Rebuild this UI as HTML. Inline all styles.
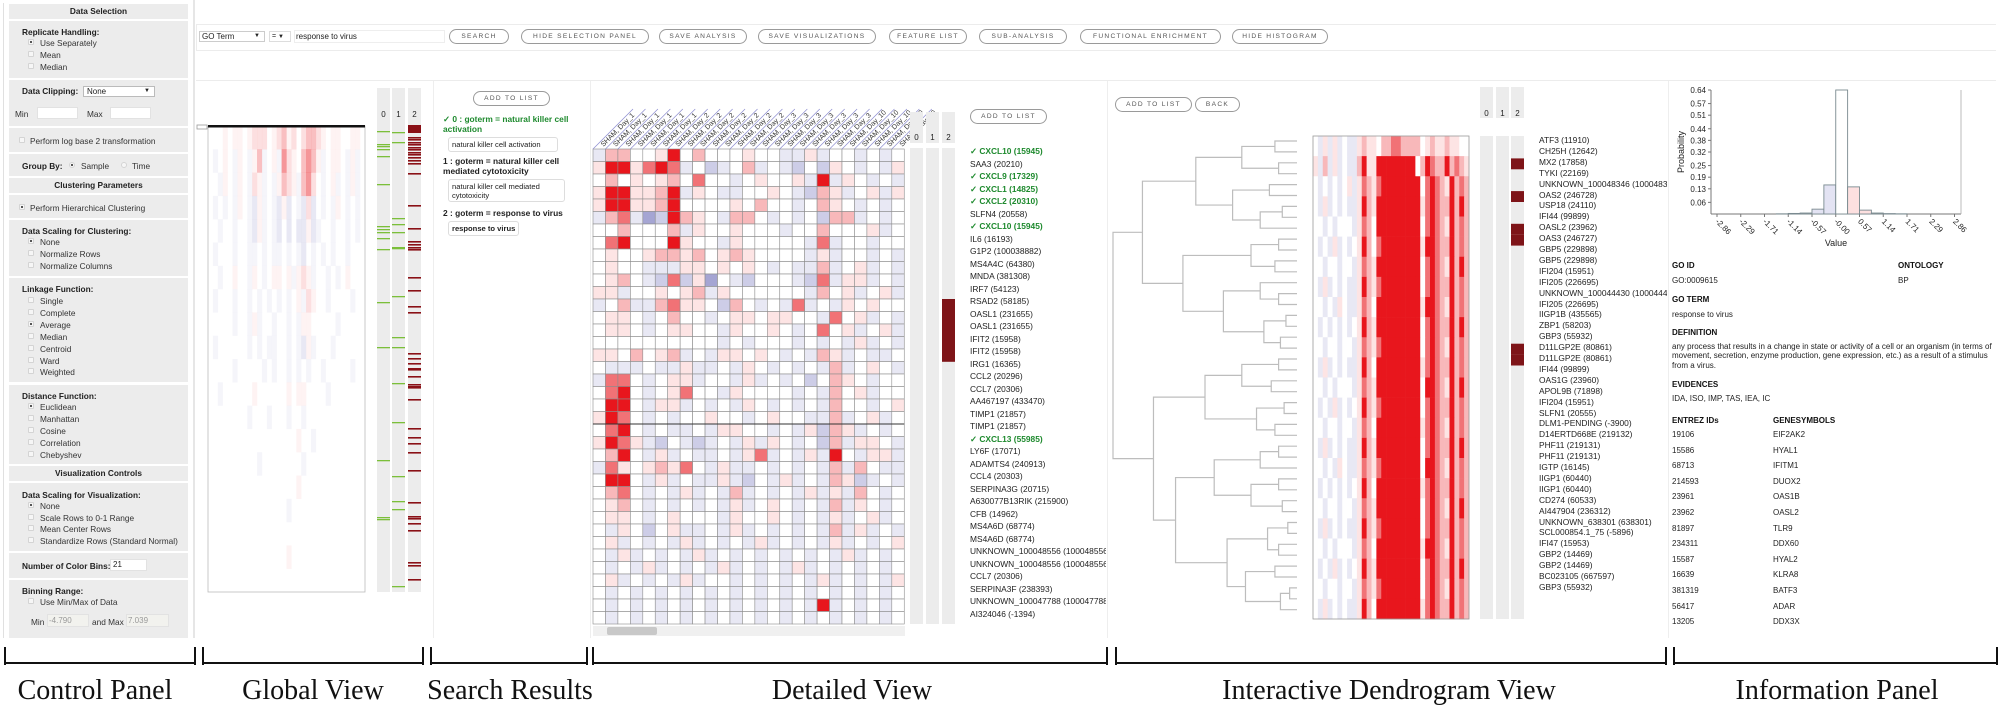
<!DOCTYPE html>
<html><head><meta charset="utf-8">
<style>
*{box-sizing:border-box;margin:0;padding:0}
body{width:2002px;height:709px;overflow:hidden;background:#fff;position:relative;font-family:"Liberation Sans",sans-serif;color:#222}
.a{position:absolute;white-space:nowrap}
.cp{position:absolute;left:9px;width:179px;background:#ececec}
.hd{font-weight:bold;font-size:8.3px;text-align:center}
.lb{font-weight:bold;font-size:8.3px;position:absolute;left:13px}
.op{position:absolute;left:31px;font-size:8.3px;color:#333}
.rb{position:absolute;left:19px;width:6px;height:6px;border:1px solid #d4d4d4;background:#f6f6f6;border-radius:1px}
.rb.on::after{content:"";position:absolute;left:1px;top:1px;width:2px;height:2px;background:#555}
.btn{position:absolute;height:15px;border:1px solid #9a9a9a;border-radius:8px;font-size:6.6px;letter-spacing:1.3px;color:#555;text-align:center;line-height:13px;background:#fff}
.inp{position:absolute;background:#fff;border:1px solid #e2e2e2}
.g{position:absolute;font-size:8.4px}
.box{position:absolute;border:1px solid #ddd;border-radius:3px;font-size:7.6px;padding:2px 3px;line-height:9px;background:#fff}
.bl{position:absolute;background:#111}
.cap{position:absolute;top:675px;font-family:"Liberation Serif",serif;font-size:28px;color:#111;transform:translateX(-50%);white-space:nowrap}
.it{position:absolute;font-size:8px;color:#222}
.ib{position:absolute;font-size:8px;font-weight:bold;color:#111}
</style></head><body>

<!-- CONTROL PANEL -->
<div>
<div class="a" style="left:3px;top:3px;width:1px;height:635px;background:#e0e0e0"></div>
<div class="cp" style="top:4px;height:15px"><div class="hd" style="line-height:15px">Data Selection</div></div>
<div class="cp" style="top:21px;height:57px">
 <div class="lb" style="top:6px">Replicate Handling:</div>
 <div class="rb on" style="top:18px"></div><div class="op" style="top:17px">Use Separately</div>
 <div class="rb" style="top:30px"></div><div class="op" style="top:29px">Mean</div>
 <div class="rb" style="top:42px"></div><div class="op" style="top:41px">Median</div>
</div>
<div class="cp" style="top:80px;height:46px">
 <div class="lb" style="top:6px">Data Clipping:</div>
 <div class="inp" style="left:74px;top:6px;width:72px;height:11px;border-color:#bbb;font-size:8px;padding-left:3px;line-height:9px">None<span style="position:absolute;right:4px;font-size:6px">▼</span></div>
 <div class="op" style="left:6px;top:29px">Min</div><div class="inp" style="left:28px;top:27px;width:41px;height:12px"></div>
 <div class="op" style="left:78px;top:29px">Max</div><div class="inp" style="left:101px;top:27px;width:41px;height:12px"></div>
</div>
<div class="cp" style="top:128px;height:24px"><div class="rb" style="top:9px;left:10px"></div><div class="op" style="left:21px;top:8px">Perform log base 2 transformation</div></div>
<div class="cp" style="top:154px;height:22px">
 <div class="lb" style="top:7px">Group By:</div>
 <div class="rb on" style="left:60px;top:8px;border-radius:50%"></div><div class="op" style="left:72px;top:7px">Sample</div>
 <div class="rb" style="left:112px;top:8px;border-radius:50%"></div><div class="op" style="left:123px;top:7px">Time</div>
</div>
<div class="cp" style="top:178px;height:15px"><div class="hd" style="line-height:15px">Clustering Parameters</div></div>
<div class="cp" style="top:195px;height:23px"><div class="rb on" style="top:9px;left:10px"></div><div class="op" style="left:21px;top:8px">Perform Hierarchical Clustering</div></div>
<div class="cp" style="top:220px;height:56px">
 <div class="lb" style="top:6px">Data Scaling for Clustering:</div>
 <div class="rb on" style="top:18px"></div><div class="op" style="top:17px">None</div>
 <div class="rb" style="top:30px"></div><div class="op" style="top:29px">Normalize Rows</div>
 <div class="rb" style="top:42px"></div><div class="op" style="top:41px">Normalize Columns</div>
</div>
<div class="cp" style="top:278px;height:104px">
 <div class="lb" style="top:6px">Linkage Function:</div>
 <div class="rb" style="top:19px"></div><div class="op" style="top:18px">Single</div>
 <div class="rb" style="top:31px"></div><div class="op" style="top:30px">Complete</div>
 <div class="rb on" style="top:43px"></div><div class="op" style="top:42px">Average</div>
 <div class="rb" style="top:55px"></div><div class="op" style="top:54px">Median</div>
 <div class="rb" style="top:67px"></div><div class="op" style="top:66px">Centroid</div>
 <div class="rb" style="top:79px"></div><div class="op" style="top:78px">Ward</div>
 <div class="rb" style="top:90px"></div><div class="op" style="top:89px">Weighted</div>
</div>
<div class="cp" style="top:385px;height:79px">
 <div class="lb" style="top:6px">Distance Function:</div>
 <div class="rb on" style="top:18px"></div><div class="op" style="top:17px">Euclidean</div>
 <div class="rb" style="top:30px"></div><div class="op" style="top:29px">Manhattan</div>
 <div class="rb" style="top:42px"></div><div class="op" style="top:41px">Cosine</div>
 <div class="rb" style="top:54px"></div><div class="op" style="top:53px">Correlation</div>
 <div class="rb" style="top:66px"></div><div class="op" style="top:65px">Chebyshev</div>
</div>
<div class="cp" style="top:466px;height:15px"><div class="hd" style="line-height:15px">Visualization Controls</div></div>
<div class="cp" style="top:483px;height:68px">
 <div class="lb" style="top:7px">Data Scaling for Visualization:</div>
 <div class="rb on" style="top:19px"></div><div class="op" style="top:18px">None</div>
 <div class="rb" style="top:31px"></div><div class="op" style="top:30px">Scale Rows to 0-1 Range</div>
 <div class="rb" style="top:42px"></div><div class="op" style="top:41px">Mean Center Rows</div>
 <div class="rb" style="top:54px"></div><div class="op" style="top:53px">Standardize Rows (Standard Normal)</div>
</div>
<div class="cp" style="top:553px;height:25px">
 <div class="lb" style="top:8px">Number of Color Bins:</div>
 <div class="inp" style="left:101px;top:6px;width:37px;height:12px;font-size:8px;padding-left:2px;line-height:10px">21</div>
</div>
<div class="cp" style="top:580px;height:58px">
 <div class="lb" style="top:6px">Binning Range:</div>
 <div class="rb" style="top:18px"></div><div class="op" style="top:17px">Use Min/Max of Data</div>
 <div class="op" style="left:22px;top:37px">Min</div><div class="inp" style="left:38px;top:34px;width:42px;height:13px;background:#f2f2ee;font-size:8px;color:#999;padding-left:1px;line-height:11px">-4.790</div>
 <div class="op" style="left:83px;top:37px">and Max</div><div class="inp" style="left:117px;top:34px;width:43px;height:13px;background:#f2f2ee;font-size:8px;color:#999;padding-left:1px;line-height:11px">7.039</div>
</div>
</div>

<!-- TOP TOOLBAR -->
<div class="a" style="left:196px;top:24px;width:1800px;height:27px;border:1px solid #ececec;border-right:none"></div>
<div class="a" style="left:196px;top:80px;width:1800px;height:1px;background:#ececec"></div>
<div class="inp" style="left:199px;top:31px;width:66px;height:11px;border-color:#ccc;font-size:8px;padding-left:2px;line-height:9px">GO Term<span style="position:absolute;right:4px;font-size:6px">▼</span></div>
<div class="inp" style="left:269px;top:31px;width:22px;height:11px;border-color:#ddd;font-size:7px;padding-left:2px;line-height:9px">= <span style="font-size:6px">▼</span></div>
<div class="inp" style="left:294px;top:30px;width:151px;height:13px;border-color:#eee;font-size:8px;padding-left:1px;line-height:11px">response to virus</div>
<div class="btn" style="left:449px;top:29px;width:60px">SEARCH</div>
<div class="btn" style="left:521px;top:29px;width:128px">HIDE SELECTION PANEL</div>
<div class="btn" style="left:659px;top:29px;width:88px">SAVE ANALYSIS</div>
<div class="btn" style="left:758px;top:29px;width:118px">SAVE VISUALIZATIONS</div>
<div class="btn" style="left:889px;top:29px;width:78px">FEATURE LIST</div>
<div class="btn" style="left:979px;top:29px;width:88px">SUB-ANALYSIS</div>
<div class="btn" style="left:1080px;top:29px;width:141px">FUNCTIONAL ENRICHMENT</div>
<div class="btn" style="left:1232px;top:29px;width:96px">HIDE HISTOGRAM</div>

<!-- panel separators -->
<div class="a" style="left:193px;top:0;width:2px;height:638px;background:#e6e6e6"></div>
<div class="a" style="left:433px;top:81px;width:1px;height:557px;background:#eee"></div>
<div class="a" style="left:590px;top:81px;width:1px;height:557px;background:#eee"></div>
<div class="a" style="left:1107px;top:81px;width:1px;height:557px;background:#eee"></div>
<div class="a" style="left:1668px;top:81px;width:1px;height:557px;background:#eee"></div>

<!-- SEARCH RESULTS -->
<div>
<div class="btn" style="left:473px;top:91px;width:77px">ADD TO LIST</div>
<div class="g" style="left:443px;top:115px;color:#1e8a2e;font-weight:bold;line-height:9.5px;white-space:normal;width:145px">✓ 0 : goterm = natural killer cell activation</div>
<div class="box" style="left:448px;top:137px;width:110px">natural killer cell activation</div>
<div class="g" style="left:443px;top:157px;font-weight:bold;line-height:9.5px;white-space:normal;width:145px">1 : goterm = natural killer cell mediated cytotoxicity</div>
<div class="box" style="left:448px;top:179px;width:117px;height:23px">natural killer cell mediated cytotoxicity</div>
<div class="g" style="left:443px;top:208px;font-weight:bold">2 : goterm = response to virus</div>
<div class="box" style="left:448px;top:221px;font-weight:bold">response to virus</div>
</div>

<!-- DETAILED VIEW controls -->
<div class="btn" style="left:970px;top:109px;width:77px">ADD TO LIST</div>
<div class="btn" style="left:1115px;top:97px;width:77px">ADD TO LIST</div>
<div class="btn" style="left:1195px;top:97px;width:45px">BACK</div>

<svg class="a" style="left:0;top:0" width="2002" height="709" id="svg">
 <g id="global"></g><g id="detail"></g><g id="dendro"></g><g id="hist"></g>
</svg>

<div id="dlabels"></div><div id="rlabels"></div>

<!-- INFO PANEL -->
<div>
<div class="ib" style="left:1672px;top:261px">GO ID</div><div class="ib" style="left:1898px;top:261px">ONTOLOGY</div>
<div class="it" style="left:1672px;top:276px">GO:0009615</div><div class="it" style="left:1898px;top:276px">BP</div>
<div class="ib" style="left:1672px;top:295px">GO TERM</div>
<div class="it" style="left:1672px;top:310px">response to virus</div>
<div class="ib" style="left:1672px;top:328px">DEFINITION</div>
<div class="it" style="left:1672px;top:342px;white-space:normal;width:320px;line-height:9.4px">any process that results in a change in state or activity of a cell or an organism (in terms of movement, secretion, enzyme production, gene expression, etc.) as a result of a stimulus from a virus.</div>
<div class="ib" style="left:1672px;top:380px">EVIDENCES</div>
<div class="it" style="left:1672px;top:394px">IDA, ISO, IMP, TAS, IEA, IC</div>
<div class="ib" style="left:1672px;top:416px">ENTREZ IDs</div><div class="ib" style="left:1773px;top:416px">GENESYMBOLS</div>
<div id="etable"></div>
</div>

<!-- bottom brackets & captions -->
<div id="brackets"></div>
<div class="cap" style="left:95px">Control Panel</div>
<div class="cap" style="left:313px">Global View</div>
<div class="cap" style="left:510px">Search Results</div>
<div class="cap" style="left:852px">Detailed View</div>
<div class="cap" style="left:1389px">Interactive Dendrogram View</div>
<div class="cap" style="left:1837px">Information Panel</div>

<script>
// ---------- DATA ----------
const redMap={'0':'#ffffff','1':'#fde4e4','2':'#f8b8ba','3':'#f17276','4':'#e8161d'};
const blueMap={'a':'#e8e8f4','b':'#cdcde7','c':'#a5a5d3'};
const globalRows=[
"00010110122201231202332101100110",
"0a010a10a13a01a42103431a0110a1a0",
"00a10a10a21a0a1321a3420a01a0a1a0",
"0a0a0a10ab1a0ab1b0ab2b0a0a10a0a0",
"00a00a00ab1a0ab0b0bb1ba00a00a0a0",
"0a000a00aa0a0aa0a0ab0a0a0a00a000",
"00a00100a10a01101a121a00a0a01000",
"0a000a00a0a0a0a0a01a2100a0000a00",
"00000a00a1a00a00a0a1100000a00000",
"0a000000a0a0aa00a0ab1a000a000000",
"00000a00000a0a00a0a0a00a00000a00",
"00a000000100000010110000a0000000",
"00000000a000a000a00a000000000000",
"000000000000000000100a0000000000",
"0000000000a00000000a000000000000",
"00000000000000000010000000000000",
"0000000000000000a000000000000000",
"00000000000000000000000000000000",
"00000000000000001000000000000000",
"00000000000000000000000000000000"];
const globalCol0=[131,144,146,149,156,184,226,229,232,238,249,302,347,460,517,519];
const globalCol1=[132,142,218,224,232,247,248,296,337,347,383,422,476,501,509,586];
const globalCol2=[125,128,131,137,139,142,144,147,149,152,154,157,160,163,173,205,228,241,244,247,249,277,290,306,312,353,358,363,368,369,376,384,386,387,399,428,437,443,452,470,502,516,518,523,530,562,565,579];

const detailRows=[
"a22001402000100aa1a00a0a0","1441343a0ba02a0ab0b10a0a1","02010120300a01001a4a10a0a",
"1441124a10aa0010ab21a01a1","1441124000010200a0210a0a0","a23acb4210a220a0a0b22a0a0",
"0020002a1001000a0020001a0","0340004100a100000a3a00a00","01001221201210000a1a00a0a",
"0100aaa1101010a0aa2a01a0a","0120ab3b1c0ab000ab3a11a0a","11a001012a1000000a201a01a",
"a02aa23110b20a0a3a0a10100","0110a0200a01101100a301a0a","0110a01100a10010a0301a01a",
"0000000000a0a000a0a0a1a0a","1102012a0a11010a0a21a0aa0","0aaa0aa1aa0a10a0a0a2a010a",
"a330a011a00a1a0a0b0210a00","0340a01300a10000a0a201a00","0440a11a0a0a10a0a0a200a01",
"1430a0a00100a0100aa2a01a0","0340a0aa0a1100a0a1b21a0a0","1431ab0aba0a1a10a0b2a110a",
"0240a1a0aa0a13a0a1a40a11a","a31012130a1aa0a0a0a2a20aa","0440a1a0aa1ab0a1a0a21ba0a",
"0230a0a1a0a2a0a0a1a1a20a0","0120a0a0a0a1a010a0a2a10a0","0110a01000a10010a0a1a01a0",
"0a10b01aa0a1a0a0a0a2a1a0a","01a0a0a1a0a0a1a0a0a1a0a01","0a1a0a0a1a0a0a0a0a0a1a0a0",
"0a0a1a0a0a1a0a0a1a0a0a0a0","01a0a0a1a00a0a0a0a1a0a0a1","0a0a0a0a0a0a0a0a0a0a0a0a0",
"0a0a0a0a0a0a0a0a0a4a0a0a0","0a0a0a0a0a0a0a0a0a0a0a0a0"];
const detailCols=["SHAM, Day_1","SHAM, Day_1","SHAM, Day_1","SHAM, Day_1","SHAM, Day_1","SHAM, Day_1",
"SHAM, Day_2","SHAM, Day_2","SHAM, Day_2","SHAM, Day_2","SHAM, Day_2","SHAM, Day_2","SHAM, Day_2",
"SHAM, Day_3","SHAM, Day_3","SHAM, Day_3","SHAM, Day_3","SHAM, Day_3","SHAM, Day_3","SHAM, Day_3",
"SHAM, Day_10","SHAM, Day_10","SHAM, Day_10","SHAM, Day_10","SHAM, Day_10"];
const detailGenes=["CXCL10 (15945)","SAA3 (20210)","CXCL9 (17329)","CXCL1 (14825)","CXCL2 (20310)","SLFN4 (20558)","CXCL10 (15945)","IL6 (16193)","G1P2 (100038882)","MS4A4C (64380)","MNDA (381308)","IRF7 (54123)","RSAD2 (58185)","OASL1 (231655)","OASL1 (231655)","IFIT2 (15958)","IFIT2 (15958)","IRG1 (16365)","CCL2 (20296)","CCL7 (20306)","AA467197 (433470)","TIMP1 (21857)","TIMP1 (21857)","CXCL13 (55985)","LY6F (17071)","ADAMTS4 (240913)","CCL4 (20303)","SERPINA3G (20715)","A630077B13RIK (215900)","CFB (14962)","MS4A6D (68774)","MS4A6D (68774)","UNKNOWN_100048556 (100048556)","UNKNOWN_100048556 (100048556)","CCL7 (20306)","SERPINA3F (238393)","UNKNOWN_100047788 (100047788)","AI324046 (-1394)"];
const detailChecked=[0,2,3,4,6,23];
const detailGroup2=[12,13,14,15,16];

const dendroRows=[
"0a1a1a0aa121102233222201211211",
"1a2a1a0aa24114444444402432242321",
"0a0a0a01a13213444444440343214232",
"0a1a0a0aa14214444444441343224242",
"00a0a000a13204444444440343214232",
"0a0a1a0a014203444444441443224232",
"00a00a00a13214444444440343214242",
"0a1a0a0aa14213444444440343224232",
"00a0a10aa13204444444441443214232",
"0a0a0a0a014214444444440343224242",
"00a00a00a13213444444440343214232",
"0a1a0a0aa14204444444441343224232",
"00a0a000a13214444444440443214242",
"0a0a1a0a014213444444440343224232",
"00a00a00a13204444444441343214232",
"0a1a0a0aa14214444444440343224242",
"00a0a10aa13213444444440443214232",
"0a0a0a0a014204444444441343224232",
"00a00a00a13214444444440343214242",
"0a1a0a0aa14213444444440343224232",
"00a0a000a13204444444441443214232",
"0a0a1a0a014214444444440343224242",
"00a00a00a13213444444440343214232",
"0a1a0a0aa14204444444441343224232"];
const dendroGenes=["ATF3 (11910)","CH25H (12642)","MX2 (17858)","TYKI (22169)","UNKNOWN_100048346 (100048346)","OAS2 (246728)","USP18 (24110)","IFI44 (99899)","OASL2 (23962)","OAS3 (246727)","GBP5 (229898)","GBP5 (229898)","IFI204 (15951)","IFI205 (226695)","UNKNOWN_100044430 (100044430)","IFI205 (226695)","IIGP1B (435565)","ZBP1 (58203)","GBP3 (55932)","D11LGP2E (80861)","D11LGP2E (80861)","IFI44 (99899)","OAS1G (23960)","APOL9B (71898)","IFI204 (15951)","SLFN1 (20555)","DLM1-PENDING (-3900)","D14ERTD668E (219132)","PHF11 (219131)","PHF11 (219131)","IGTP (16145)","IIGP1 (60440)","IIGP1 (60440)","CD274 (60533)","AI447904 (236312)","UNKNOWN_638301 (638301)","SCL000854.1_75 (-5896)","IFI47 (15953)","GBP2 (14469)","GBP2 (14469)","BC023105 (667597)","GBP3 (55932)"];
const dendroGroup2=[2,5,8,9,19,20];
const tree=[1.0,
 [0.84,
   [0.55,[0.3,[0.12,0,1],[0.1,2,3]],[0.35,[0.15,4,5],[0.2,[0.08,6,7],8]]],
   [0.62,[0.25,[0.1,9,10],[0.12,11,12]],[0.4,[0.2,13,[0.1,14,15]],[0.18,[0.06,16,17],[0.09,18,19]]]]],
 [0.78,
   [0.5,[0.3,[0.1,20,21],[0.14,22,23]],[0.22,[0.07,24,25],[0.12,26,27]]],
   [0.66,[0.45,[0.2,[0.1,28,29],30],[0.25,[0.1,31,32],[0.08,33,34]]],[0.38,[0.16,[0.05,35,36],[0.1,37,38]],[0.28,[0.12,39,40],[0.09,[0.04,41,42],43]]]]]];

const histValues=[0,0,0,0,0,0.001,0.003,0.005,0.025,0.15,0.64,0.14,0.02,0.005,0.002,0.001,0,0,0,0,0];
const histYTicks=[0.06,0.13,0.19,0.25,0.32,0.38,0.44,0.51,0.57,0.64];
const histXTicks=["-2.86","-2.29","-1.71","-1.14","-0.57","-0.00","0.57","1.14","1.71","2.29","2.86"];

const entrezIds=["19106","15586","68713","214593","23961","23962","81897","234311","15587","16639","381319","56417","13205","100685"];
const geneSymbols=["EIF2AK2","HYAL1","IFITM1","DUOX2","OAS1B","OASL2","TLR9","DDX60","HYAL2","KLRA8","BATF3","ADAR","DDX3X","HYAL3"];

// ---------- helpers ----------
const NS="http://www.w3.org/2000/svg";
function mk(parent,tag,attrs){const e=document.createElementNS(NS,tag);for(const k in attrs)e.setAttribute(k,attrs[k]);parent.appendChild(e);return e;}
function col(c){return redMap[c]||blueMap[c]||'#ffffff';}

// ---------- GLOBAL VIEW ----------
(function(){
 const g=document.getElementById('global');
 const x0=208,x1=365,y0=126,y1=592;
 const nc=globalRows[0].length,nr=globalRows.length;
 const cw=(x1-x0)/nc, rh=(y1-y0)/nr;
 mk(g,'rect',{x:x0,y:y0,width:x1-x0,height:y1-y0,fill:'#fff',stroke:'#bbb','stroke-width':0.8});
 globalRows.forEach((row,r)=>{for(let c=0;c<nc;c++){const ch=row[c]||'0';if(ch==='0')continue;
  const e=mk(g,'rect',{x:x0+c*cw,y:y0+r*rh,width:cw+0.2,height:rh+0.2,fill:col(ch),opacity:0.45});
  
  }});
 mk(g,'rect',{x:x0,y:y0-1,width:x1-x0,height:2.5,fill:'#111'});
 mk(g,'rect',{x:197,y:125,width:10,height:4,fill:'#fff',stroke:'#999','stroke-width':0.8});
 const bx=[377,392,408];
 [globalCol0,globalCol1,globalCol2].forEach((arr,i)=>{
  const b=mk(g,'rect',{x:bx[i],y:88,width:13,height:504,fill:'#ececec'});
  
  
  const t=mk(g,'text',{x:bx[i]+6.5,y:117,'font-size':8,'text-anchor':'middle',fill:'#222','font-family':'Liberation Sans'});t.textContent=String(i);
  arr.forEach(y=>{const m=mk(g,'rect',{x:bx[i],y:y,width:13,height:i==2?1.6:1.3,fill:i==2?'#8a1016':'#7bbf3a'});
   
   });
 });
 mk(g,'rect',{x:408,y:125,width:13,height:8,fill:'#8a1016'});
})();

// ---------- DETAILED VIEW ----------
(function(){
 const g=document.getElementById('detail');
 const x0=593,y0=149,cw=12.45,rh=12.5;
 const nc=detailCols.length;
 detailRows.forEach((row,r)=>{for(let c=0;c<nc;c++){
  const e=mk(g,'rect',{x:x0+c*cw,y:y0+r*rh,width:cw,height:rh,fill:col(row[c]||'0'),stroke:'#8d8d8d','stroke-width':0.6});
  
  }});
 mk(g,'line',{x1:x0,x2:x0+nc*cw,y1:y0+22*rh,y2:y0+22*rh,stroke:'#333','stroke-width':1});
 detailCols.forEach((lab,c)=>{
  const cx=x0+c*cw;
  mk(g,'line',{x1:cx,y1:y0,x2:cx+40,y2:y0-40,stroke:'#8c8cd0','stroke-width':0.7});
  const t=mk(g,'text',{x:0,y:0,'font-size':7,fill:'#333','font-family':'Liberation Sans',transform:`translate(${cx+cw-2},${y0-2}) rotate(-45)`});
  t.textContent=lab;
  
  
 });
 mk(g,'rect',{x:593,y:626,width:312,height:10,fill:'#f0f0f0'});
 mk(g,'rect',{x:607,y:627,width:50,height:8,fill:'#c8c8c8',rx:2});
 const bx=[910,926,942];
 bx.forEach((x,i)=>{
  mk(g,'rect',{x:x,y:112,width:13,height:31,fill:'#ececec'});
  const t=mk(g,'text',{x:x+6.5,y:140,'font-size':8,'text-anchor':'middle',fill:'#222','font-family':'Liberation Sans'});t.textContent=String(i);
  const b=mk(g,'rect',{x:x,y:148,width:13,height:476,fill:'#ececec'});
  
  
 });
 detailGroup2.forEach(i=>{mk(g,'rect',{x:942,y:y0+i*rh,width:13,height:rh+0.3,fill:'#7e1418'});});
 const L=document.getElementById('dlabels');
 detailGenes.forEach((n,i)=>{const d=document.createElement('div');d.className='a';
  const ck=detailChecked.includes(i);
  d.style.cssText=`left:970px;top:${151+12.5*i-5}px;font-size:8.4px;width:136px;overflow:hidden;${ck?'color:#1e8a2e;font-weight:bold':'color:#222'}`;
  d.textContent=(ck?'✓ ':'')+n;
  
  
  L.appendChild(d);});
})();

// ---------- DENDROGRAM VIEW ----------
(function(){
 const g=document.getElementById('dendro');
 const x0=1313,x1=1469,y0=136,y1=619;
 const nc=32,nr=dendroRows.length,cw=(x1-x0)/nc,rh=(y1-y0)/nr;
 dendroRows.forEach((row,r)=>{for(let c=0;c<nc;c++){
  const e=mk(g,'rect',{x:x0+c*cw,y:y0+r*rh,width:cw+0.3,height:rh+0.3,fill:col(row[c]||'0')});
  
  }});
 mk(g,'rect',{x:x0,y:y0,width:x1-x0,height:y1-y0,fill:'none',stroke:'#999','stroke-width':0.8});
 const leafY=i=>141+i*10.9, hx=h=>1297-h*184;
 function draw(n){
  if(typeof n==='number') return {x:1297,y:leafY(n)};
  const a=draw(n[1]),b=draw(n[2]),x=hx(n[0]);
  mk(g,'path',{d:`M${a.x},${a.y}H${x}V${b.y}H${b.x}`,fill:'none',stroke:'#bdbdbd','stroke-width':1.2});
  return {x:x,y:(a.y+b.y)/2};
 }
 draw(tree);
 const bx=[1480,1496,1511];
 bx.forEach((x,i)=>{
  mk(g,'rect',{x:x,y:87,width:13,height:31,fill:'#ececec'});
  const t=mk(g,'text',{x:x+6.5,y:116,'font-size':8,'text-anchor':'middle',fill:'#222','font-family':'Liberation Sans'});t.textContent=String(i);
  const b=mk(g,'rect',{x:x,y:136,width:13,height:483,fill:'#ececec'});
  
  
 });
 dendroGroup2.forEach(i=>{mk(g,'rect',{x:1511,y:140+i*10.9-5.4+2,width:13,height:10.9,fill:'#7e1418'});});
 const L=document.getElementById('rlabels');
 dendroGenes.forEach((n,i)=>{const d=document.createElement('div');d.className='a';
  d.style.cssText=`left:1539px;top:${140+10.9*i-5}px;font-size:8.4px;color:#222;width:128px;overflow:hidden`;
  d.textContent=n;
  
  
  L.appendChild(d);});
})();

// ---------- HISTOGRAM ----------
(function(){
 const g=document.getElementById('hist');
 const ax0=1711,ax1=1961,base=214,top=90,ymax=0.64;
 const yS=v=>base-(v/ymax)*(base-top);
 const xc0=1717,step=23.75/2;
 mk(g,'line',{x1:ax0,x2:ax0,y1:top,y2:base,stroke:'#777','stroke-width':1});
 mk(g,'line',{x1:ax0,x2:ax1,y1:base,y2:base,stroke:'#777','stroke-width':1});
 mk(g,'line',{x1:ax1,x2:ax1,y1:top,y2:base,stroke:'#aaa','stroke-width':0.8});
 histYTicks.forEach(v=>{const y=yS(v);
  mk(g,'line',{x1:ax0-3,x2:ax0,y1:y,y2:y,stroke:'#777'});
  const t=mk(g,'text',{x:ax0-5,y:y+3,'font-size':8,'text-anchor':'end',fill:'#222','font-family':'Liberation Sans'});t.textContent=v.toFixed(2);});
 histXTicks.forEach((lab,i)=>{const x=xc0+i*23.75;
  mk(g,'line',{x1:x,x2:x,y1:base,y2:base+3,stroke:'#777'});
  const t=mk(g,'text',{x:0,y:0,'font-size':8,fill:'#222','font-family':'Liberation Sans',transform:`translate(${x-2},${base+8}) rotate(45)`});t.textContent=lab;});
 histValues.forEach((v,i)=>{if(v<=0)return;
  const cx=xc0+i*step;
  const fill=i<10?'#e3e3f3':(i>10?'#fde0e0':'#ffffff');
  const r=mk(g,'rect',{x:cx,y:yS(v),width:step,height:base-yS(v),fill:fill,stroke:'#7a8a90','stroke-width':0.9});
  
  });
 const yl=mk(g,'text',{x:0,y:0,'font-size':9,'text-anchor':'middle',fill:'#222','font-family':'Liberation Sans',transform:'translate(1684,152) rotate(-90)'});yl.textContent='Probability';
 
 
 const xl=mk(g,'text',{x:1836,y:246,'font-size':9,'text-anchor':'middle',fill:'#222','font-family':'Liberation Sans'});xl.textContent='Value';
 
 
})();

// ---------- entrez table ----------
(function(){
 const T=document.getElementById('etable');
 entrezIds.forEach((id,i)=>{
  const y=430+15.6*i;if(y>632)return;
  const a=document.createElement('div');a.className='it';a.style.left='1672px';a.style.top=y+'px';a.textContent=id;
  
  
  const b=document.createElement('div');b.className='it';b.style.left='1773px';b.style.top=y+'px';b.textContent=geneSymbols[i];
  
  
  T.appendChild(a);T.appendChild(b);});
 const cover=document.createElement('div');cover.className='a';cover.style.cssText='left:1669px;top:638px;width:333px;height:12px;background:#fff';
 T.appendChild(cover);
})();

// ---------- brackets ----------
(function(){
 const B=document.getElementById('brackets');
 const br=[[4,196],[202,424],[430,588],[592,1108],[1115,1667],[1673,1998]];
 br.forEach(([a,b])=>{
  [[a,647,2,18],[b-2,647,2,18],[a,662,b-a,2.2]].forEach(([x,y,w,h])=>{
   const d=document.createElement('div');d.className='bl';
   d.style.cssText=`left:${x}px;top:${y}px;width:${w}px;height:${h}px`;
   
   
   B.appendChild(d);});
 });
})();
</script>
</body></html>
